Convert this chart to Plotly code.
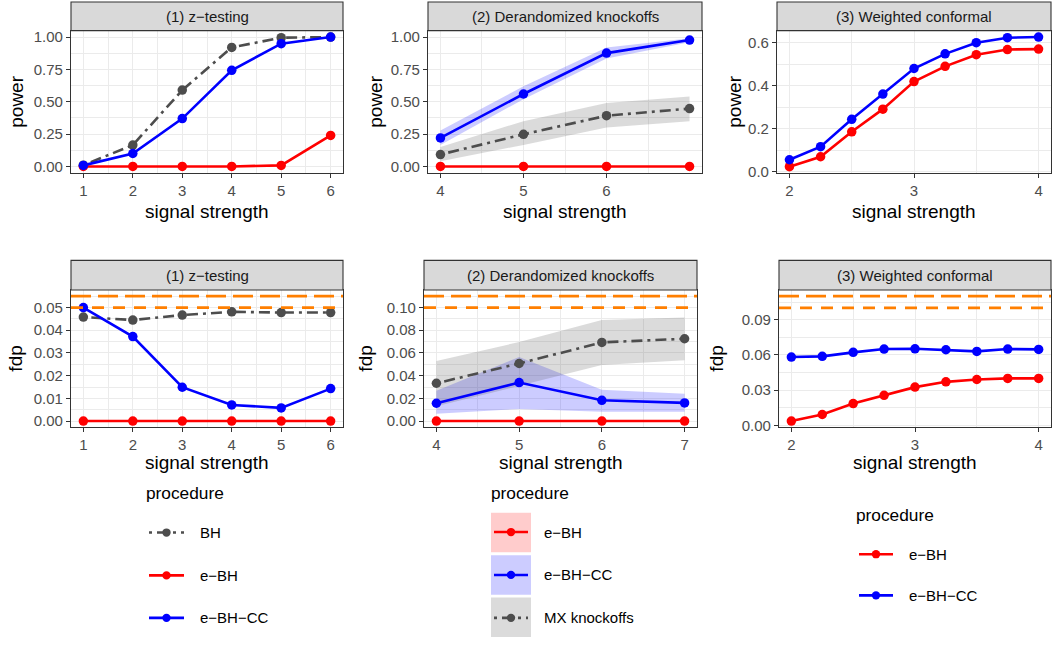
import plotly.graph_objects as go

W, H = 1053, 648

# ---------------- data ----------------
# (1) z-testing
z_signal = [1, 2, 3, 4, 5, 6]
z_power_bh = [0.010, 0.165, 0.590, 0.920, 0.995, 1.000]
z_power_ebh = [0.000, 0.000, 0.000, 0.000, 0.008, 0.240]
z_power_ebhcc = [0.008, 0.100, 0.370, 0.743, 0.949, 1.000]
z_fdp_bh = [0.0458, 0.0445, 0.0467, 0.0481, 0.0478, 0.0478]
z_fdp_ebh = [0.0, 0.0, 0.0, 0.0, 0.0, 0.0]
z_fdp_ebhcc = [0.0500, 0.0372, 0.0149, 0.0071, 0.0058, 0.0143]
z_fdp_lines = [0.05, 0.055]

# (2) derandomized knockoffs
ko_signal = [4, 5, 6, 7]
ko_power_ebh = [0.0, 0.0, 0.0, 0.0]
ko_power_ebhcc = [0.220, 0.560, 0.876, 0.977]
ko_power_ebhcc_lo = [0.165, 0.520, 0.835, 0.960]
ko_power_ebhcc_hi = [0.278, 0.620, 0.920, 0.990]
ko_power_mx = [0.092, 0.248, 0.392, 0.447]
ko_power_mx_lo = [0.040, 0.166, 0.300, 0.350]
ko_power_mx_hi = [0.150, 0.350, 0.490, 0.540]
ko_fdp_ebh = [0.0, 0.0, 0.0, 0.0]
ko_fdp_ebhcc = [0.0157, 0.0339, 0.0183, 0.0160]
ko_fdp_ebhcc_lo = [0.0064, 0.0107, 0.0081, 0.0081]
ko_fdp_ebhcc_hi = [0.0267, 0.0565, 0.0275, 0.0240]
ko_fdp_mx = [0.0333, 0.0507, 0.0693, 0.0725]
ko_fdp_mx_lo = [0.0130, 0.0310, 0.0493, 0.0536]
ko_fdp_mx_hi = [0.0530, 0.0696, 0.0890, 0.0913]
ko_fdp_lines = [0.10, 0.11]

# (3) weighted conformal
wc_signal = [2, 2.25, 2.5, 2.75, 3, 3.25, 3.5, 3.75, 4]
wc_power_ebh = [0.024, 0.070, 0.186, 0.291, 0.419, 0.490, 0.544, 0.568, 0.570]
wc_power_ebhcc = [0.056, 0.117, 0.244, 0.361, 0.480, 0.548, 0.600, 0.623, 0.626]
wc_fdp_ebh = [0.0037, 0.0093, 0.0186, 0.0256, 0.0326, 0.0371, 0.0391, 0.0400, 0.0400]
wc_fdp_ebhcc = [0.0582, 0.0588, 0.0622, 0.0650, 0.0652, 0.0644, 0.0630, 0.0650, 0.0647]
wc_fdp_lines = [0.10, 0.11]

# tick values / labels
z_xticks = [1, 2, 3, 4, 5, 6]
ko_top_xticks = [4, 5, 6]
ko_bot_xticks = [4, 5, 6, 7]
wc_xticks = [2, 3, 4]
power_ticks = [0, 0.25, 0.5, 0.75, 1.0]
power_ticklabels = ["0.00", "0.25", "0.50", "0.75", "1.00"]
wc_power_ticks = [0, 0.2, 0.4, 0.6]
wc_power_ticklabels = ["0.0", "0.2", "0.4", "0.6"]
z_fdp_ticks = [0, 0.01, 0.02, 0.03, 0.04, 0.05]
z_fdp_ticklabels = ["0.00", "0.01", "0.02", "0.03", "0.04", "0.05"]
ko_fdp_ticks = [0, 0.02, 0.04, 0.06, 0.08, 0.10]
ko_fdp_ticklabels = ["0.00", "0.02", "0.04", "0.06", "0.08", "0.10"]
wc_fdp_ticks = [0, 0.03, 0.06, 0.09]
wc_fdp_ticklabels = ["0.00", "0.03", "0.06", "0.09"]

# ---------------- styling ----------------
FONT = "Liberation Sans, Arial, sans-serif"
GRAY = "#4D4D4D"
RED = "#FF0000"
BLUE = "#0000FF"
ORANGE = "#FF7F00"
GRID = "#EBEBEB"
BORDER = "#333333"
DOTDASH = "3px,5px,11px,5px"
LW = 2.6
MS = 9.5


def fx(p):
    return p / W


def fy(p):
    return 1 - p / H


def minor_between(ticks):
    return [(a + b) / 2 for a, b in zip(ticks[:-1], ticks[1:])]


S_BH = dict(name="BH", color=GRAY, dash=DOTDASH)
S_EBH = dict(name="e−BH", color=RED, dash="solid")
S_CC = dict(name="e−BH−CC", color=BLUE, dash="solid")
S_MX = dict(name="MX knockoffs", color=GRAY, dash=DOTDASH)

panels = [
    dict(box=(71, 29, 343, 173.3), xr=[0.75, 6.25], yr=[-0.05, 1.05],
         xt=z_xticks, xminor=minor_between(z_xticks),
         yt=power_ticks, ytl=power_ticklabels, yminor=minor_between(power_ticks),
         strip="(1) z−testing", ylab="power", ylab_x=17, x=z_signal,
         series=[(S_BH, z_power_bh, None), (S_EBH, z_power_ebh, None), (S_CC, z_power_ebhcc, None)],
         hlines=[]),
    dict(box=(428, 29, 702, 173.3), xr=[3.85, 7.15], yr=[-0.05, 1.05],
         xt=ko_top_xticks, xminor=[4.5, 5.5, 6.5],
         yt=power_ticks, ytl=power_ticklabels, yminor=minor_between(power_ticks),
         strip="(2) Derandomized knockoffs", ylab="power", ylab_x=376, x=ko_signal,
         series=[(S_EBH, ko_power_ebh, None),
                 (S_CC, ko_power_ebhcc, (ko_power_ebhcc_lo, ko_power_ebhcc_hi)),
                 (S_MX, ko_power_mx, (ko_power_mx_lo, ko_power_mx_hi))],
         hlines=[]),
    dict(box=(777, 29, 1051, 173.3), xr=[1.9, 4.1], yr=[-0.005, 0.656],
         xt=wc_xticks, xminor=minor_between(wc_xticks),
         yt=wc_power_ticks, ytl=wc_power_ticklabels, yminor=[0.1, 0.3, 0.5],
         strip="(3) Weighted conformal", ylab="power", ylab_x=735, x=wc_signal,
         series=[(S_EBH, wc_power_ebh, None), (S_CC, wc_power_ebhcc, None)],
         hlines=[]),
    dict(box=(71, 292, 343, 431.3), xr=[0.75, 6.25], yr=[-0.00275, 0.05775],
         xt=z_xticks, xminor=minor_between(z_xticks),
         yt=z_fdp_ticks, ytl=z_fdp_ticklabels, yminor=minor_between(z_fdp_ticks) + [0.055],
         strip="(1) z−testing", ylab="fdp", ylab_x=16, x=z_signal,
         series=[(S_BH, z_fdp_bh, None), (S_EBH, z_fdp_ebh, None), (S_CC, z_fdp_ebhcc, None)],
         hlines=z_fdp_lines),
    dict(box=(424, 292, 697, 431.3), xr=[3.85, 7.15], yr=[-0.0055, 0.1155],
         xt=ko_bot_xticks, xminor=minor_between(ko_bot_xticks),
         yt=ko_fdp_ticks, ytl=ko_fdp_ticklabels, yminor=minor_between(ko_fdp_ticks) + [0.11],
         strip="(2) Derandomized knockoffs", ylab="fdp", ylab_x=366, x=ko_signal,
         series=[(S_EBH, ko_fdp_ebh, None),
                 (S_CC, ko_fdp_ebhcc, (ko_fdp_ebhcc_lo, ko_fdp_ebhcc_hi)),
                 (S_MX, ko_fdp_mx, (ko_fdp_mx_lo, ko_fdp_mx_hi))],
         hlines=ko_fdp_lines),
    dict(box=(779, 292, 1051, 431.3), xr=[1.9, 4.1], yr=[-0.0016, 0.1153],
         xt=wc_xticks, xminor=minor_between(wc_xticks),
         yt=wc_fdp_ticks, ytl=wc_fdp_ticklabels, yminor=minor_between(wc_fdp_ticks) + [0.105],
         strip="(3) Weighted conformal", ylab="fdp", ylab_x=717, x=wc_signal,
         series=[(S_EBH, wc_fdp_ebh, None), (S_CC, wc_fdp_ebhcc, None)],
         hlines=wc_fdp_lines),
]

fig = go.Figure()
shapes = []
annotations = []
layout = {}

for i, p in enumerate(panels, start=1):
    sfx = "" if i == 1 else str(i)
    xa, ya = "x" + sfx, "y" + sfx
    x0, y0, x1, y1 = p["box"]
    axis_common = dict(
        showline=True, mirror=True, linecolor=BORDER, linewidth=1.1,
        ticks="outside", ticklen=4, tickwidth=1.1, tickcolor=BORDER,
        showgrid=True, gridcolor=GRID, gridwidth=1.1, zeroline=False,
        tickfont=dict(family=FONT, size=15, color=GRAY),
        fixedrange=True,
    )
    layout["xaxis" + sfx] = dict(
        axis_common, domain=[fx(x0), fx(x1)], range=p["xr"], anchor=ya,
        tickmode="array", tickvals=p["xt"], ticktext=[str(v) for v in p["xt"]],
        minor=dict(tickmode="array", tickvals=p["xminor"], showgrid=True,
                   gridcolor=GRID, gridwidth=0.55, ticklen=0),
    )
    layout["yaxis" + sfx] = dict(
        axis_common, domain=[fy(y1), fy(y0)], range=p["yr"], anchor=xa,
        tickmode="array", tickvals=p["yt"], ticktext=p["ytl"],
        minor=dict(tickmode="array", tickvals=p["yminor"], showgrid=True,
                   gridcolor=GRID, gridwidth=0.55, ticklen=0),
    )
    xs = p["x"]
    # ribbons
    for s, ys, band in p["series"]:
        if band is None:
            continue
        lo, hi = band
        r, g, b = int(s["color"][1:3], 16), int(s["color"][3:5], 16), int(s["color"][5:7], 16)
        fig.add_trace(go.Scatter(
            x=list(xs) + list(xs)[::-1], y=list(hi) + list(lo)[::-1],
            fill="toself", fillcolor=f"rgba({r},{g},{b},0.2)",
            line=dict(width=0), mode="lines", hoverinfo="skip",
            showlegend=False, xaxis=xa, yaxis=ya))
    # lines
    for s, ys, band in p["series"]:
        fig.add_trace(go.Scatter(
            x=xs, y=ys, mode="lines", name=s["name"],
            line=dict(color=s["color"], width=LW, dash=s["dash"]),
            showlegend=False, xaxis=xa, yaxis=ya))
    # points
    for s, ys, band in p["series"]:
        fig.add_trace(go.Scatter(
            x=xs, y=ys, mode="markers", name=s["name"],
            marker=dict(color=s["color"], size=MS, line=dict(width=0)),
            showlegend=False, xaxis=xa, yaxis=ya))
    # target fdp lines
    for k, v in enumerate(p["hlines"]):
        shapes.append(dict(
            type="line", xref=xa + " domain", yref=ya, x0=0, x1=1, y0=v, y1=v,
            line=dict(color=ORANGE, width=2.8, dash="12px,9px" if k == 0 else "20px,7px"),
            layer="above"))
    # strip
    sy0 = 0 if y0 < 100 else 262
    shapes.append(dict(type="rect", xref="paper", yref="paper",
                       x0=fx(x0), x1=fx(x1), y0=fy(y0), y1=fy(sy0),
                       fillcolor="#D9D9D9", line=dict(color=BORDER, width=1.1), layer="above"))
    annotations.append(dict(text=p["strip"], xref="paper", yref="paper",
                            x=fx((x0 + x1) / 2), y=fy((sy0 + y0) / 2),
                            xanchor="center", yanchor="middle", showarrow=False,
                            font=dict(family=FONT, size=15, color="#1A1A1A")))
    # axis titles
    xt_y = 212 if y0 < 100 else 467
    annotations.append(dict(text="signal strength", xref="paper", yref="paper",
                            x=fx((x0 + x1) / 2), y=fy(xt_y), xanchor="center", yanchor="middle",
                            showarrow=False, font=dict(family=FONT, size=19, color="black")))
    annotations.append(dict(text=p["ylab"], xref="paper", yref="paper",
                            x=fx(p["ylab_x"]), y=fy((y0 + y1) / 2), xanchor="center", yanchor="middle",
                            textangle=-90, showarrow=False,
                            font=dict(family=FONT, size=19, color="black")))


# ---------------- legends (drawn manually, ggplot style) ----------------
def legend_title(x, y):
    annotations.append(dict(text="procedure", xref="paper", yref="paper", x=fx(x), y=fy(y),
                            xanchor="left", yanchor="middle", showarrow=False,
                            font=dict(family=FONT, size=17.3, color="black")))


def legend_item(kx0, kx1, y, s, lx, box=None):
    if box is not None:
        r, g, b = int(s["color"][1:3], 16), int(s["color"][3:5], 16), int(s["color"][5:7], 16)
        bx0, bx1, by0, by1 = box
        shapes.append(dict(type="rect", xref="paper", yref="paper",
                           x0=fx(bx0), x1=fx(bx1), y0=fy(by1), y1=fy(by0),
                           fillcolor=f"rgba({r},{g},{b},0.2)", line=dict(width=0)))
    shapes.append(dict(type="line", xref="paper", yref="paper",
                       x0=fx(kx0), x1=fx(kx1), y0=fy(y), y1=fy(y),
                       line=dict(color=s["color"], width=LW, dash=s["dash"])))
    cx = (kx0 + kx1) / 2
    rr = 4.2
    shapes.append(dict(type="circle", xref="paper", yref="paper",
                       x0=fx(cx - rr), x1=fx(cx + rr), y0=fy(y + rr), y1=fy(y - rr),
                       fillcolor=s["color"], line=dict(width=0)))
    annotations.append(dict(text=s["name"], xref="paper", yref="paper", x=fx(lx), y=fy(y),
                            xanchor="left", yanchor="middle", showarrow=False,
                            font=dict(family=FONT, size=15, color="black")))


legend_title(144, 498)
for s, y in [(S_BH, 538), (S_EBH, 581.5), (S_CC, 624.5)]:
    legend_item(149, 184, y, s, 198)

legend_title(489, 498)
for s, y, by in [(S_EBH, 537.5, 518), (S_CC, 581, 561), (S_MX, 624.5, 604)]:
    legend_item(494, 528, y, s, 542, box=(491, 531, by, by + 40))

legend_title(854, 520)
for s, y in [(S_EBH, 560), (S_CC, 601.7)]:
    legend_item(859, 893, y, s, 907)

fig.update_layout(
    width=W, height=H, autosize=False,
    margin=dict(l=0, r=0, t=0, b=0),
    paper_bgcolor="white", plot_bgcolor="white",
    showlegend=False,
    shapes=shapes, annotations=annotations,
    **layout,
)

fig.write_html("out.html")
